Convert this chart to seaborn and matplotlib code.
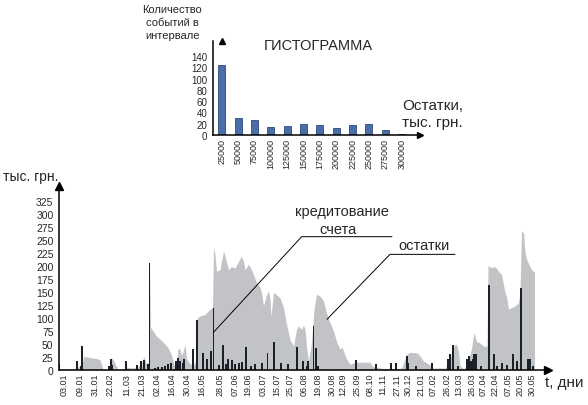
import matplotlib
matplotlib.use("Agg")
import matplotlib.pyplot as plt
import seaborn as sns

# остатки на счете (серая область): номер наблюдения -> тыс. грн.
area_x = [0, 4, 11, 16, 19, 23, 24.5, 31, 38, 41, 43, 44, 50, 52, 54, 59, 65, 67, 73, 78,
          82, 85, 87, 89.5, 90.5, 91.5, 97.5, 104, 109, 112.5, 115, 117, 119, 121, 122.5,
          124, 126, 127.5, 131, 135, 137, 138, 141, 146, 151, 153.5, 154.5, 156, 157.5,
          161, 164.5, 166, 169.5, 172.5, 176, 179.5, 182.5, 184.5, 186, 189.5, 191, 194.5,
          197.5, 201, 202.5, 204.5, 207, 209.5, 211, 212, 214.5, 217.5, 221, 224.5, 227.5,
          231, 234.5, 237.5, 239.5, 242.5, 244.5, 246, 247.5, 249.5, 252.5, 255, 257.5,
          261, 264.5, 267.5, 271, 274.5, 278, 281, 283, 287.5, 291, 296, 311, 313, 318,
          324, 341, 343, 347.5, 351, 358, 361, 364.5, 369.5, 374, 386, 389, 391, 394.5,
          396, 397.5, 399.5, 401, 404.5, 406, 409.5, 412.5, 415, 417.5, 421, 424.5, 428,
          429, 432.5, 436, 439.5, 442.5, 446, 447.5, 449.5, 452.5, 456, 459.5, 461, 462.5,
          464.5, 466, 467.5, 471, 472.5, 474.5, 475.5]
area_y = [3, 2, 2, 3, 6, 8, 26, 24, 22, 19, 8, 1, 2, 24, 20, 1, 2, 6, 4, 5,
          12, 26, 12, 15, 207, 82, 65, 54, 43, 29, 10, 3, 41, 40, 28,
          35, 49, 22, 12, 10, 20, 100, 104, 107, 117, 120, 235, 222, 190,
          193, 229, 219, 193, 199, 196, 209, 219, 209, 193, 203, 199, 184,
          168, 159, 149, 123, 142, 152, 136, 103, 149, 145, 139, 120, 88,
          59, 46, 78, 85, 78, 86, 78, 46, 17, 52, 117, 146,
          142, 133, 110, 91, 75, 52, 40, 44, 21, 11, 15, 15, 8, 5,
          3, 3, 5, 30, 34, 33, 27, 17, 12, 4, 4, 10, 22, 44,
          49, 49, 36, 8, 3, 5, 19, 42, 72, 55, 52, 46, 46,
          201, 197, 199, 190, 184, 149, 142, 117, 120, 123, 130, 149, 267,
          264, 226, 213, 199, 193, 190, 190]

# кредитование счета (столбики)
credit_x = [0, 17.7, 22, 23.3, 50.3, 52, 53.3, 66.7, 77.7, 82, 85.3, 88.7, 90.5, 96, 99.3,
            103, 106, 109.3, 112.3, 116.7, 118.7, 121, 123.7, 125.3, 134.3, 137.7, 144.3,
            148.3, 151.7, 154.5, 160, 163.7, 167, 169.3, 172.7, 176, 180.3, 183, 187, 192,
            196, 202.7, 208.5, 215, 221.7, 229.3, 238.3, 244.3, 247.7, 249.3, 254.5, 256.7,
            259.3, 296.7, 317, 331.7, 337, 347.7, 349.3, 357, 373.3, 389.3, 391, 394.3,
            399, 407.7, 410, 412, 413.7, 415.3, 417, 422, 429.7, 435.3, 438.3, 442.7,
            448, 453.7, 457.7, 462, 469.3, 471, 473.7]
credit_y = [12, 18, 8, 47, 8, 22, 10, 18, 10, 17, 20, 12, 205, 4, 6,
            5, 8, 11, 14, 17, 24, 17, 13, 22, 40, 97, 33,
            22, 36, 120, 10, 49, 11, 22, 20, 12, 14, 15, 45, 8,
            11, 14, 33, 53, 14, 11, 45, 17, 8, 18, 85, 43,
            8, 19, 12, 14, 14, 27, 14, 8, 14, 22, 30, 49,
            8, 22, 26, 17, 22, 30, 30, 8, 163, 30, 8, 14,
            10, 30, 17, 158, 22, 22, 8]

tick_pos = [5, 21, 36, 51, 68, 83, 98, 113, 128, 143, 161, 176, 189, 204, 218, 231, 245,
            259, 273, 284, 298, 311, 324, 338, 349, 362, 374, 388, 400, 413, 424, 436,
            449, 461, 473]
tick_labels = ["03.01", "09.01", "31.01", "22.02", "11.03", "21.03", "02.04", "16.04",
               "30.04", "16.05", "28.05", "07.06", "19.06", "03.07", "15.07", "25.07",
               "06.08", "19.08", "30.08", "12.09", "25.09", "08.10", "11.11", "27.11",
               "30.12", "21.01", "07.02", "26.02", "13.03", "26.03", "07.04", "22.04",
               "07.05", "20.05", "30.05"]
y_ticks = list(range(0, 326, 25))

# гистограмма
hist_bins = ["25000", "50000", "75000", "100000", "125000", "150000", "175000",
             "200000", "225000", "250000", "275000", "300000"]
hist_counts = [125, 31, 27, 15, 16, 19, 17, 12, 18, 19, 9, 2]
hist_ticks = list(range(0, 141, 20))

sns.set_style("white")
plt.rcParams["font.family"] = ["Liberation Sans", "DejaVu Sans"]

W, H = 588, 406


def box(x0, y0, x1, y1):
    return [x0 / W, 1 - y1 / H, (x1 - x0) / W, (y1 - y0) / H]


def pt(x, y):
    return x / W, 1 - y / H


fig = plt.figure(figsize=(W / 100, H / 100), dpi=100)

# ---- основной график
ax = fig.add_axes(box(59, 187, 548, 371))
ax.fill_between(area_x, area_y, color="#c1c3c6", lw=0, zorder=1)
ax.bar(credit_x, credit_y, width=1.8, color="#1c2028", lw=0, zorder=2)
ax.set_xlim(0, 489)
ax.set_ylim(0, 354)
ax.set_xticks(tick_pos, tick_labels, rotation=90, fontsize=6.5)
ax.set_yticks(y_ticks, [str(v) for v in y_ticks], fontsize=7.5)
ax.tick_params(axis="x", length=0, pad=2)
ax.tick_params(axis="y", length=0, pad=4)
for s in ["top", "right"]:
    ax.spines[s].set_visible(False)
for s in ["left", "bottom"]:
    ax.spines[s].set_color("black")
    ax.spines[s].set_linewidth(1.1)
ax.plot(1, 0, ">", color="black", ms=6, transform=ax.get_yaxis_transform(), clip_on=False)
ax.plot(0, 1, "^", color="black", ms=6, transform=ax.get_xaxis_transform(), clip_on=False)

# выноски
ax.plot([154.5, 242.7, 333], [72.5, 256.5, 256.5], color="black", lw=0.7, clip_on=False)
ax.plot([268, 331, 396], [97.5, 222.5, 222.5], color="black", lw=0.7, clip_on=False)

# ---- гистограмма
ax_h = fig.add_axes(box(213, 42, 420, 136))
sns.barplot(x=hist_bins, y=hist_counts, color="#4a6fa8", edgecolor="#2f4a78",
            linewidth=0.6, width=0.43, saturation=1, ax=ax_h)
ax_h.set_xlim(-0.53, 12.12)
ax_h.set_ylim(0, 166.7)
ax_h.set_yticks(hist_ticks, [str(v) for v in hist_ticks], fontsize=7)
ax_h.tick_params(axis="x", length=0, pad=2, labelrotation=90, labelsize=6.5)
ax_h.tick_params(axis="y", length=0, pad=4)
ax_h.set_facecolor("none")
for s in ["top", "right"]:
    ax_h.spines[s].set_visible(False)
for s in ["left", "bottom"]:
    ax_h.spines[s].set_color("black")
    ax_h.spines[s].set_linewidth(1.1)
ax_h.plot(1, 0, ">", color="black", ms=5, transform=ax_h.get_yaxis_transform(), clip_on=False)
ax_h.plot(0, 1, "^", color="black", ms=5, transform=ax_h.get_xaxis_transform(), clip_on=False)

# ---- подписи
fig.text(*pt(3, 177), "тыс. грн.", fontsize=10, va="center", ha="left")
fig.text(*pt(545, 383), "t, дни", fontsize=11, va="center", ha="left")
fig.text(*pt(342, 212), "кредитование", fontsize=10.5, va="center", ha="center")
fig.text(*pt(338, 230), "счета", fontsize=10.5, va="center", ha="center")
fig.text(*pt(424, 246), "остатки", fontsize=10.5, va="center", ha="center")
fig.text(*pt(318.5, 46), "ГИСТОГРАММА", fontsize=10.5, va="center", ha="center")
fig.text(*pt(402, 106), "Остатки,", fontsize=11, va="center", ha="left")
fig.text(*pt(402, 123), "тыс. грн.", fontsize=11, va="center", ha="left")
fig.text(*pt(172, 23), "Количество\nсобытий в\nинтервале", fontsize=8,
         va="center", ha="center", linespacing=1.35)

fig.savefig("out.png", dpi=100)
